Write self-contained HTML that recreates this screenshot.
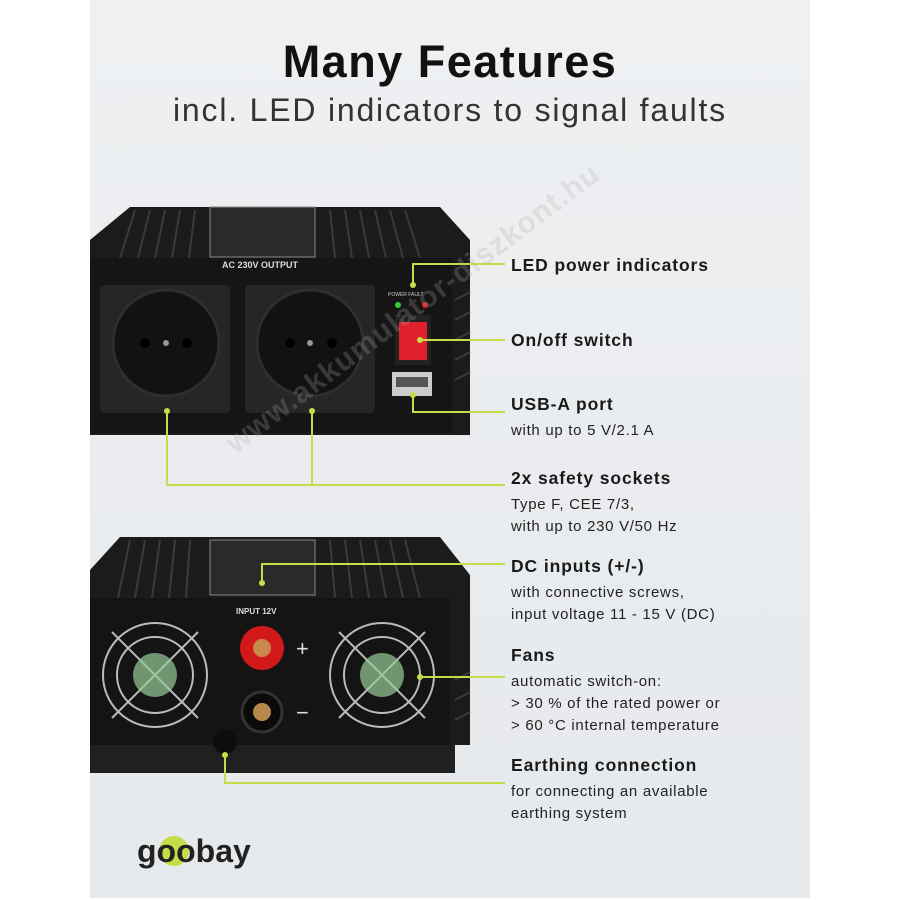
<!DOCTYPE html>
<html><head><meta charset="utf-8"><style>
body{margin:0;width:900px;height:900px;background:#fff;position:relative;overflow:hidden;font-family:"Liberation Sans","DejaVu Sans",sans-serif}
.panel{position:absolute;left:90px;top:0;width:720px;height:898px;background:linear-gradient(#eef0f2,#e6e9ec)}
.t{position:absolute;left:511px;color:#1a1a1a}
.t b{font-size:17.5px;display:block;margin-bottom:5px;letter-spacing:0.9px}
.t span{font-size:15px;line-height:22px;color:#222;letter-spacing:0.7px}
.wm{position:absolute;left:230px;top:430px;font-size:30px;font-weight:bold;color:rgba(170,170,170,.25);transform:rotate(-37deg);transform-origin:left center;white-space:nowrap;letter-spacing:1px}
</style></head><body>
<div class="panel"></div>
<div style="position:absolute;left:0;width:900px;top:36px;text-align:center;font-size:45px;letter-spacing:1.5px;font-weight:bold;color:#111">Many Features</div>
<div style="position:absolute;left:0;width:900px;top:92px;text-align:center;font-size:32px;letter-spacing:1.8px;color:#333">incl. LED indicators to signal faults</div>
<svg width="900" height="900" style="position:absolute;left:0;top:0">
<polygon points="90,240 130,207 440,207 470,240 470,435 90,435" fill="#1b1b1b"/>
<g stroke="#3a3a3a" stroke-width="2">
<line x1="135" y1="210" x2="120" y2="258"/><line x1="150" y1="210" x2="138" y2="258"/><line x1="165" y1="210" x2="155" y2="258"/><line x1="180" y1="210" x2="172" y2="258"/><line x1="195" y1="210" x2="189" y2="258"/>
<line x1="330" y1="210" x2="335" y2="258"/><line x1="345" y1="210" x2="352" y2="258"/><line x1="360" y1="210" x2="369" y2="258"/><line x1="375" y1="210" x2="386" y2="258"/><line x1="390" y1="210" x2="403" y2="258"/><line x1="405" y1="210" x2="420" y2="258"/>
<line x1="455" y1="300" x2="470" y2="292"/><line x1="455" y1="320" x2="470" y2="312"/><line x1="455" y1="340" x2="470" y2="332"/><line x1="455" y1="360" x2="470" y2="352"/><line x1="455" y1="380" x2="470" y2="372"/>
</g>
<rect x="210" y="207" width="105" height="50" fill="#2a2a2a" stroke="#888"/>
<rect x="90" y="258" width="362" height="175" fill="#151515"/>
<text x="222" y="268" fill="#ddd" font-size="9" font-weight="bold">AC 230V OUTPUT</text>
<rect x="100" y="285" width="130" height="128" rx="4" fill="#262626"/>
<rect x="245" y="285" width="130" height="128" rx="4" fill="#262626"/>
<circle cx="166" cy="343" r="53" fill="#121212" stroke="#2e2e2e" stroke-width="3"/>
<circle cx="310" cy="343" r="53" fill="#121212" stroke="#2e2e2e" stroke-width="3"/>
<circle cx="145" cy="343" r="5" fill="#000"/><circle cx="187" cy="343" r="5" fill="#000"/><circle cx="166" cy="343" r="3" fill="#999"/>
<circle cx="290" cy="343" r="5" fill="#000"/><circle cx="332" cy="343" r="5" fill="#000"/><circle cx="310" cy="343" r="3" fill="#999"/>
<text x="388" y="296" fill="#ccc" font-size="5">POWER  FAULT</text>
<circle cx="398" cy="305" r="3" fill="#3c3"/><circle cx="425" cy="305" r="3" fill="#d22"/>
<rect x="395" y="315" width="36" height="50" fill="#222"/>
<rect x="399" y="322" width="28" height="38" fill="#e0202a"/>
<rect x="392" y="372" width="40" height="24" fill="#ccc"/><rect x="396" y="377" width="32" height="10" fill="#555"/>
<polygon points="90,570 120,537 440,537 470,575 470,745 90,745" fill="#1b1b1b"/>
<g stroke="#3a3a3a" stroke-width="2">
<line x1="130" y1="540" x2="118" y2="598"/><line x1="145" y1="540" x2="135" y2="598"/><line x1="160" y1="540" x2="152" y2="598"/><line x1="175" y1="540" x2="169" y2="598"/><line x1="190" y1="540" x2="186" y2="598"/>
<line x1="330" y1="540" x2="335" y2="598"/><line x1="345" y1="540" x2="352" y2="598"/><line x1="360" y1="540" x2="369" y2="598"/><line x1="375" y1="540" x2="386" y2="598"/><line x1="390" y1="540" x2="403" y2="598"/><line x1="405" y1="540" x2="420" y2="598"/>
<line x1="455" y1="680" x2="470" y2="672"/><line x1="455" y1="700" x2="470" y2="692"/><line x1="455" y1="720" x2="470" y2="712"/>
</g>
<rect x="210" y="540" width="105" height="55" fill="#2a2a2a" stroke="#888"/>
<rect x="90" y="598" width="360" height="147" fill="#141414"/>
<rect x="90" y="745" width="365" height="28" fill="#202020"/>
<text x="236" y="614" fill="#ddd" font-size="8" font-weight="bold">INPUT 12V</text>
<g fill="none" stroke="#bbb" stroke-width="2">
<circle cx="155" cy="675" r="52"/><circle cx="155" cy="675" r="38"/><line x1="112" y1="632" x2="198" y2="718"/><line x1="198" y1="632" x2="112" y2="718"/>
<circle cx="382" cy="675" r="52"/><circle cx="382" cy="675" r="38"/><line x1="339" y1="632" x2="425" y2="718"/><line x1="425" y1="632" x2="339" y2="718"/>
</g>
<circle cx="155" cy="675" r="22" fill="#9c9" opacity=".7"/><circle cx="382" cy="675" r="22" fill="#9c9" opacity=".7"/>
<circle cx="262" cy="648" r="22" fill="#d21818"/><circle cx="262" cy="648" r="9" fill="#c8884a"/>
<circle cx="262" cy="712" r="20" fill="#0a0a0a" stroke="#333" stroke-width="3"/><circle cx="262" cy="712" r="9" fill="#b8874a"/>
<text x="296" y="656" fill="#ddd" font-size="22">+</text><text x="296" y="720" fill="#ddd" font-size="22">−</text>
<circle cx="225" cy="742" r="12" fill="#0d0d0d"/>
<g stroke="#c8dc4a" stroke-width="2" fill="none">
<polyline points="413,285 413,264 505,264"/>
<line x1="420" y1="340" x2="505" y2="340"/>
<polyline points="413,395 413,412 505,412"/>
<polyline points="167,411 167,485 505,485"/><line x1="312" y1="411" x2="312" y2="485"/>
<polyline points="262,583 262,564 505,564"/>
<line x1="420" y1="677" x2="505" y2="677"/>
<polyline points="225,755 225,783 505,783"/>
</g>
<g fill="#c8dc4a"><circle cx="413" cy="285" r="3"/><circle cx="420" cy="340" r="3"/><circle cx="413" cy="395" r="3"/><circle cx="167" cy="411" r="3"/><circle cx="312" cy="411" r="3"/><circle cx="262" cy="583" r="3"/><circle cx="420" cy="677" r="3"/><circle cx="225" cy="755" r="3"/></g>
<circle cx="174" cy="851" r="15" fill="#c8dc4a"/>
<text x="137" y="862" font-size="32" font-weight="bold" fill="#222" font-family="Liberation Sans,sans-serif">goobay</text>
</svg>
<div class="t" style="top:255px"><b>LED power indicators</b></div>
<div class="t" style="top:330px"><b>On/off switch</b></div>
<div class="t" style="top:394px"><b>USB-A port</b><span>with up to 5 V/2.1 A</span></div>
<div class="t" style="top:468px"><b>2x safety sockets</b><span>Type F, CEE 7/3,<br>with up to 230 V/50 Hz</span></div>
<div class="t" style="top:556px"><b>DC inputs (+/-)</b><span>with connective screws,<br>input voltage 11 - 15 V (DC)</span></div>
<div class="t" style="top:645px"><b>Fans</b><span>automatic switch-on:<br>&gt; 30 % of the rated power or<br>&gt; 60 °C internal temperature</span></div>
<div class="t" style="top:755px"><b>Earthing connection</b><span>for connecting an available<br>earthing system</span></div>
<div class="wm">www.akkumulator-diszkont.hu</div>
</body></html>
